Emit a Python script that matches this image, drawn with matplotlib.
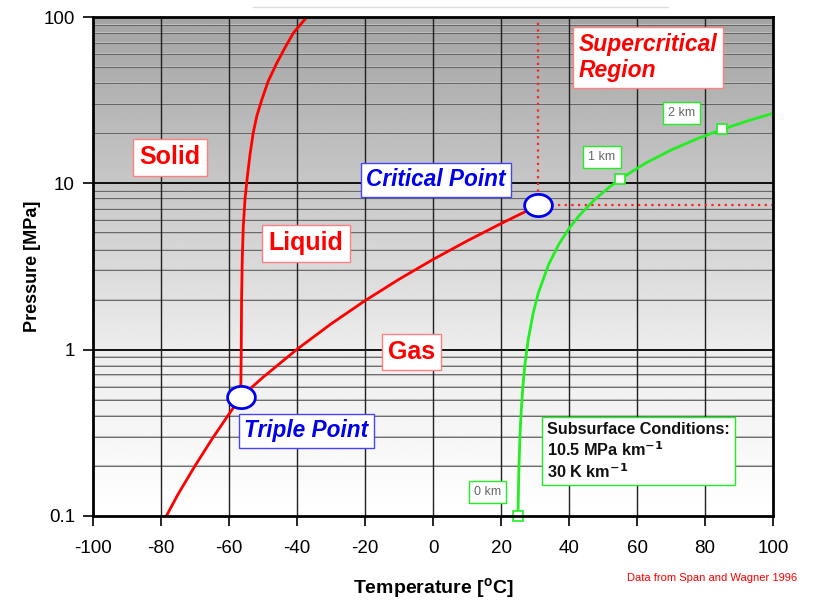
import numpy as np
import matplotlib
matplotlib.use("Agg")
import matplotlib.pyplot as plt
from matplotlib.path import Path
from matplotlib.ticker import FixedLocator, NullFormatter, FixedFormatter

plt.rcParams['font.family'] = ['Liberation Sans', 'DejaVu Sans']
plt.rcParams['axes.unicode_minus'] = False

# CO2 phase boundaries (temperature in degC, pressure in MPa)
sublimation_T = [-79.0, -75.0, -70.0, -65.0, -60.0, -56.56]
sublimation_P = [0.095, 0.135, 0.20, 0.29, 0.41, 0.518]

vapour_T = [-56.56, -50.0, -40.0, -30.0, -20.0, -10.0, 0.0, 10.0, 20.0, 25.0, 30.98]
vapour_P = [0.518, 0.682, 1.005, 1.428, 1.970, 2.649, 3.485, 4.502, 5.729, 6.43, 7.377]

melting_T = [-56.56, -56.4, -56.3, -56.1, -55.8, -55.3, -54.6, -53.8, -52.9, -51.8,
             -50.4, -48.5, -46.0, -43.6, -41.1, -39.0, -37.1]
melting_P = [0.518, 1.0, 2.0, 3.5, 5.5, 8.0, 11.0, 15.0, 20.0, 25.5,
             31.6, 41.0, 52.6, 65.0, 80.0, 90.0, 100.0]

triple_T, triple_P = -56.56, 0.518
critical_T, critical_P = 30.98, 7.377

# Subsurface path: depth (km), temperature (degC), pressure (MPa)
depth_km = [0.0, 0.005, 0.01, 0.02, 0.03, 0.05, 0.07, 0.1, 0.15, 0.2, 0.3, 0.4,
            0.5, 0.6, 0.75, 0.9, 1.0, 1.25, 1.5, 1.75, 2.0, 2.25, 2.5]
path_T = [25.0, 25.15, 25.3, 25.6, 25.9, 26.5, 27.1, 28.0, 29.5, 31.0, 34.0, 37.0,
          40.0, 43.0, 47.5, 52.0, 55.0, 62.5, 70.0, 77.5, 85.0, 92.5, 100.0]
path_P = [0.1, 0.1525, 0.205, 0.31, 0.415, 0.625, 0.835, 1.15, 1.675, 2.2, 3.25, 4.3,
          5.35, 6.4, 7.975, 9.55, 10.6, 13.225, 15.85, 18.475, 21.1, 23.725, 26.35]
marked_depths = ["0 km", "1 km", "2 km"]
marked_T = [25.0, 55.0, 85.0]
marked_P = [0.1, 10.6, 21.1]

x_ticks = [-100, -80, -60, -40, -20, 0, 20, 40, 60, 80, 100]
y_ticks = [0.1, 1, 10, 100]
y_tick_labels = ["0.1", "1", "10", "100"]

fig = plt.figure(figsize=(8.15, 6.03), dpi=100)
ax = fig.add_axes([0.1141, 0.1443, 0.8344, 0.8275])
ax.set_yscale('log')
ax.set_xlim(-100, 100)
ax.set_ylim(0.1, 100)

# grey vertical shading, darker towards high pressure
stops = np.array([0.0, 0.333, 0.667, 1.0])
levels = np.array([1.0, 0.93, 0.78, 0.64])
rows = np.linspace(0, 1, 256)
shade = np.interp(rows, stops, levels)
img = np.repeat(shade[:, None], 2, axis=1)
ax.imshow(img, cmap='gray', vmin=0, vmax=1, origin='lower', aspect='auto',
          extent=(0, 1, 0, 1), transform=ax.transAxes, zorder=0, interpolation='bilinear')

# grid
for d in [0.1, 1, 10]:
    for m in range(2, 10):
        ax.axhline(d * m, color='#5a5a5a', lw=1.3, zorder=1)
        ax.axhline(d * m * 1.012, color='#bdbdbd', lw=0.8, zorder=1)
for d in [1, 10]:
    ax.axhline(d, color='black', lw=1.3, zorder=1)
for t in x_ticks[1:-1]:
    ax.axvline(t, color='#202020', lw=1.0, zorder=1)

# dotted lines from the critical point
ax.plot([critical_T, critical_T], [critical_P, 100], color='#ff2020', lw=1.6,
        ls=(0, (1, 2)), zorder=2)
ax.plot([critical_T, 100], [critical_P, critical_P], color='#ff2020', lw=1.6,
        ls=(0, (1, 2)), zorder=2)

# phase boundaries
red = '#ff0000'
ax.plot(sublimation_T, sublimation_P, color=red, lw=2, zorder=3)
ax.plot(vapour_T, vapour_P, color=red, lw=2, zorder=3)
ax.plot(melting_T, melting_P, color=red, lw=2, zorder=3)

# subsurface path
green = '#22ee22'
ax.plot(path_T, path_P, color=green, lw=2, zorder=3, clip_on=False)
ax.plot(marked_T, marked_P, ls='none', marker='s', ms=7, mfc='white', mec=green,
        mew=1.2, zorder=4, clip_on=False)

# elliptical markers for triple and critical points
theta = np.linspace(0, 2 * np.pi, 60)
ellipse = Path(np.column_stack([1.25 * np.cos(theta), np.sin(theta)]))
ax.plot([triple_T, critical_T], [triple_P, critical_P], ls='none', marker=ellipse,
        ms=20, mfc='white', mec='#0000ee', mew=2, zorder=5)

# labels
def boxed(x, y, s, color, edge, size, style='normal', ha='center', weight='bold', pad=0.25):
    ax.text(x, y, s, color=color, fontsize=size, fontweight=weight, fontstyle=style,
            ha=ha, va='center', zorder=6, linespacing=1.2,
            bbox=dict(boxstyle=f'square,pad={pad}', fc='white', ec=edge, lw=1.0))

boxed(-77.4, 14.3, "Solid", red, '#ff8080', 18)
boxed(-37.4, 4.35, "Liquid", red, '#ff8080', 18)
boxed(-6.3, 0.97, "Gas", red, '#ff8080', 18)
boxed(0.9, 10.5, "Critical Point", '#0000ee', '#4444ff', 16.3, style='italic')
boxed(-37.2, 0.325, "Triple Point", '#0000ee', '#4444ff', 16.3, style='italic')
boxed(42.8, 57.0, "Supercritical\nRegion", red, '#ff8080', 16.5, style='italic', ha='left')
boxed(33.6, 0.245, "Subsurface Conditions:\n10.5 MPa km$^{\\mathbf{-1}}$\n30 K km$^{\\mathbf{-1}}$",
      '#111111', green, 11.7, ha='left', pad=0.3)
boxed(15.9, 0.14, "0 km", '#666666', green, 9, weight='normal', pad=0.4)
boxed(49.7, 14.3, "1 km", '#666666', green, 9, weight='normal', pad=0.4)
boxed(73.2, 26.4, "2 km", '#666666', green, 9, weight='normal', pad=0.4)

# axes styling
ax.xaxis.set_major_locator(FixedLocator(x_ticks))
ax.yaxis.set_major_locator(FixedLocator(y_ticks))
ax.yaxis.set_major_formatter(FixedFormatter(y_tick_labels))
ax.yaxis.set_minor_locator(FixedLocator([]))
ax.yaxis.set_minor_formatter(NullFormatter())
ax.tick_params(axis='both', which='major', direction='out', length=7, width=1.2,
               labelsize=13.5, color='black')
ax.tick_params(axis='x', pad=10)
ax.tick_params(axis='y', pad=6)
for sp in ax.spines.values():
    sp.set_linewidth(2)
    sp.set_color('black')
    sp.set_zorder(7)

ax.set_xlabel("Temperature [$^{\\mathregular{o}}$C]", fontsize=14, fontweight='bold', labelpad=14)
ax.set_ylabel("Pressure [MPa]", fontsize=13, fontweight='bold', labelpad=2)

fig.text(0.874, 0.041, "Data from Span and Wagner 1996", color='red', fontsize=8,
         ha='center', va='center')
fig.add_artist(plt.Line2D([0.31, 0.82], [0.988, 0.988], color='#dddddd', lw=1))

fig.savefig("out.png", dpi=100)
